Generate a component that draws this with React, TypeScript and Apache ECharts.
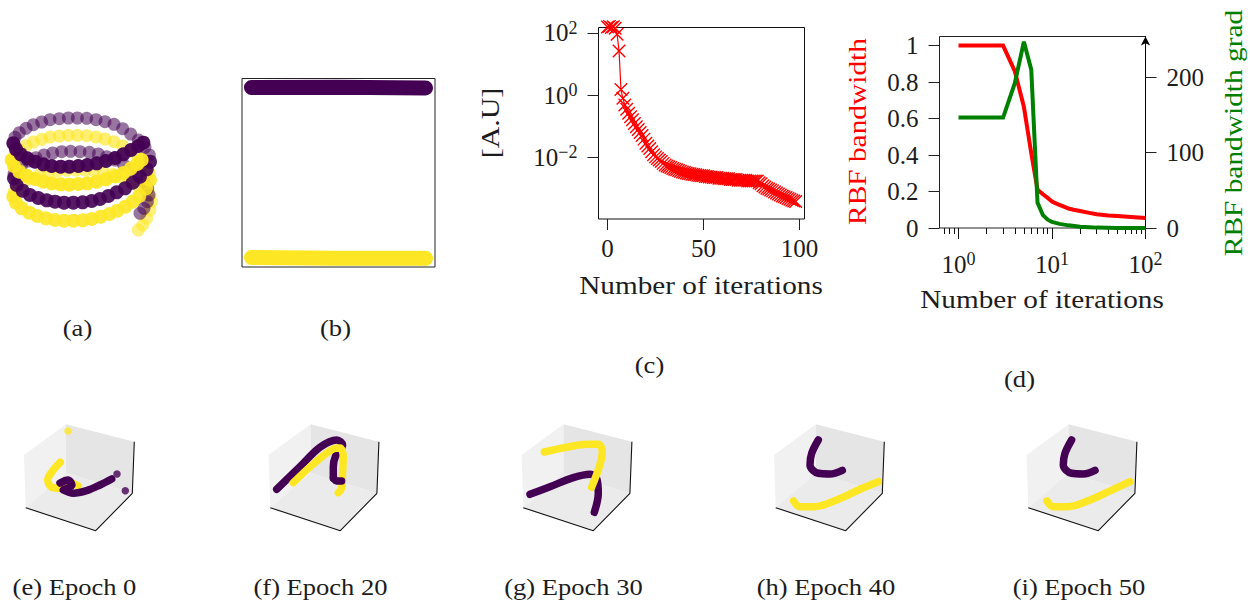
import React, { useEffect, useRef } from "react";
import * as echarts from "echarts";

const PURPLE = "#440154";
const YELLOW = "#fde725";
const FONT = '"Liberation Serif", serif';
const INK = "#1c1c1c";

// Panel (a): helix
const helixPurpleBackLow = [[420,460],[432,445],[442,425],[447,405],[443,385],[432,365],[415,345],[395,327],[370,313],[345,300],[320,290],[295,282],[268,277],[240,275],[212,274],[185,275],[158,279],[132,285],[108,293],[85,303],[65,315],[50,328],[42,342]];
const helixPurpleFrontLow = [[42,355],[50,375],[68,392],[90,405],[115,414],[140,421],[165,425],[192,428],[220,428],[248,427],[275,423],[300,417],[325,408],[350,397],[375,385],[398,368],[420,350],[440,328],[450,305]];
const helixPurpleBackHigh = [[448,285],[435,262],[415,240],[392,222],[368,206],[342,193],[315,185],[288,179],[260,175],[232,174],[205,174],[178,176],[150,179],[125,186],[100,194],[78,205],[58,218],[45,232]];
const helixPurpleFrontHigh = [[40,250],[48,268],[62,283],[82,295],[105,305],[130,313],[155,318],[182,320],[208,320],[235,318],[262,315],[290,310],[318,303],[345,294],[370,283],[393,270],[415,258],[430,248]];
const helixYellowBackLow = [[415,510],[428,495],[440,475],[450,450],[455,425],[450,405],[435,392],[415,378],[390,365],[365,352],[338,343],[310,336],[282,332],[255,330],[228,330],[200,331],[172,333],[145,337],[118,345],[92,355],[70,367],[52,382],[42,396]];
const helixYellowFrontLow = [[40,410],[48,428],[65,445],[88,458],[112,468],[138,475],[165,480],[192,482],[220,482],[248,481],[275,477],[302,470],[328,462],[352,452],[376,440],[398,425],[418,408],[438,385],[450,360]];
const helixYellowBackHigh = [[448,340],[435,315],[415,292],[392,274],[368,258],[342,245],[315,237],[288,231],[260,227],[232,226],[205,226],[178,228],[150,231],[125,238],[100,246],[78,257],[58,270],[45,285]];
const helixYellowFrontHigh = [[35,300],[42,318],[58,335],[80,347],[105,357],[130,365],[155,370],[182,373],[208,374],[235,372],[262,370],[290,365],[318,358],[345,349],[370,339],[393,325],[412,312],[425,300]];

// Panel (b)
const latentPurple = [[0.049,0.952],[0.5,0.953],[0.951,0.95]];
const latentYellow = [[0.049,0.05],[0.5,0.046],[0.951,0.046]];

// Panel (c)
const lossValues = [155,162,150,158,140,90,26,1.5,.78,.48,.35,.26,.2,.16,.12,.095,.077,.062,.05,.038,.028,.023,.019,.015,.012,.0102,.0091,.0081,.0072,.0063,.0056,.0052,.0049,.0046,.0043,.0041,.0039,.0037,.0035,.0033,.0032,.0031,.003,.0029,.0028,.00275,.0027,.0026,.00255,.0025,.0025,.0024,.0024,.0023,.0023,.0022,.0022,.0022,.0021,.0021,.0021,.002,.002,.002,.0019,.0019,.0019,.0019,.0018,.0018,.0018,.0018,.0018,.0017,.0017,.0017,.0017,.0017,.0017,.0015,.0014,.0012,.0011,.001,.00095,.00088,.00082,.00076,.0007,.00065,.0006,.00056,.00053,.0005,.00047,.00044,.00041,.00039,.00037];
const lossXTicks = [0,50,100];
const lossYTicks = [0.01,1,100];

// Panel (d)
const bandwidth = [[1,1],[2,1],[3,1],[4,0.86],[5,0.665],[6,0.41],[7,0.21],[8,0.185],[9,0.165],[10,0.145],[11,0.135],[12,0.127],[13,0.12],[14,0.113],[15,0.107],[17,0.1],[20,0.093],[25,0.083],[30,0.075],[40,0.069],[50,0.066],[70,0.06],[100,0.055]];
const bandwidthGrad = [[1,146.5],[2,146.5],[3,146.5],[4,192],[5,247],[6,210],[7,33.6],[8,17],[9,11],[10,8],[12,5.5],[15,3.5],[20,1.8],[25,1],[30,0.5],[50,0.1],[100,0]];
const iterMajor = [1,10,100];
const iterMinor = [0.7,0.8,0.9,2,3,4,5,6,7,8,9,20,30,40,50,60,70,80,90];
const bandTicks = [0,0.2,0.4,0.6,0.8,1];
const gradTicks = [0,100,200];

// Panels (e)-(i)
const leftWall = [[4,35],[46,4.3],[46,53],[5.7,87.7]];
const rightWall = [[46,4.3],[114.3,21.7],[112.3,73.3],[46,53]];
const floorPane = [[46,53],[112.3,73.3],[75.7,110.7],[5.7,87.7]];
const cubeEdges = [[5.7,87.7],[75.7,110.7],[112.3,73.3],[114.3,21.7]];

const e0Yellow = [[40.3,42.3],[33.3,50],[27.7,60],[31.7,67.3],[41.7,68.3],[50,63],[58.3,66]];
const e0YellowDots = [[48,11]];
const e0PurpleCurl = [[40,63],[48,60],[52,65],[45,69]];
const e0Purple = [[43.3,70],[53.3,73.3],[66.7,70.7],[80,65],[91.7,59]];
const e0PurpleDots = [[97,54],[105.3,70.7]];

const e20Purple = [[12.1,69.3],[35.4,46.7],[55.4,27.3],[72.1,20],[78,25],[71,36],[68.7,46.7],[68.7,58.3]];
const e20Yellow = [[28.7,62.7],[48.7,44],[68.7,29],[75.4,28],[78.7,36.7],[78,53.3],[77,68.3],[73.7,72.7]];
const e20PurpleEnd = [[69,58],[72,61],[77,61]];

const e30Purple = [[12.4,74.3],[32.4,66.7],[55.7,57.7],[72.4,54.3],[79,58.3],[80.7,73.3],[76.7,92.3]];
const e30Yellow = [[26.7,32],[49,27.3],[69,24.3],[80.7,24.3],[84.7,31.7],[81.7,46.7],[74,67.3]];

const e40Purple = [[48.3,20],[41.7,33.3],[40,45],[48.3,53.3],[60,54],[72.3,50.3]];
const e40Yellow = [[23.6,81],[30,86.7],[43.3,86.7],[66.7,80],[90,69.3],[108.3,61.7]];

const e50Purple = [[49,20],[42.4,33.3],[40.7,45],[49,53.3],[60.7,54],[72.4,50.3]];
const e50Yellow = [[24.4,81],[30.7,86.7],[44,86.7],[67.4,80],[90.7,69.3],[107.4,61.7]];

const cubeOffsets = [0,244.6,497.6,750,1002.6];

const captionsTop = [
  { t: "(a)", x: 77.5, y: 328 }, { t: "(b)", x: 335.5, y: 328 },
  { t: "(c)", x: 649.5, y: 365 }, { t: "(d)", x: 1019.5, y: 379 },
  { t: "(e) Epoch 0", x: 74.5, y: 587 }, { t: "(f) Epoch 20", x: 320.5, y: 587 },
  { t: "(g) Epoch 30", x: 573.5, y: 587 }, { t: "(h) Epoch 40", x: 826, y: 587 },
  { t: "(i) Epoch 50", x: 1079, y: 587 },
];

const supLabel = (v: number) => {
  const e = Math.round(Math.log10(v));
  return `{b|10}{s|${e < 0 ? "\u2212" + -e : e}}`;
};
const supRich = {
  b: { fontSize: 25, fontFamily: FONT, color: INK },
  s: { fontSize: 18, fontFamily: FONT, color: INK, verticalAlign: "top", padding: [0, 0, 10, 0] },
};
const tickText = { fontSize: 25, fontFamily: FONT, color: INK };

const hiddenX = (g: number, min: number, max: number) => ({ type: "value", gridIndex: g, min, max, show: false });
const hiddenY = (g: number, min: number, max: number) => ({ type: "value", gridIndex: g, min, max, inverse: true, show: false });

function buildOption() {
  const grids: any[] = [
    { left: 0, top: 60, width: 200, height: 190 },
    { left: 242, top: 78.5, width: 193, height: 188.5, show: true, borderColor: "#222", borderWidth: 1 },
    { left: 598.5, top: 27.5, width: 206, height: 191.5, show: true, borderColor: "#111", borderWidth: 1 },
    { left: 939.5, top: 36.5, width: 206, height: 191.5, show: true, borderColor: "#222", borderWidth: 1 },
  ];
  const xAxes: any[] = [
    hiddenX(0, 0, 600),
    hiddenX(1, 0, 1),
    {
      type: "value", gridIndex: 2, position: "bottom", min: -4.7, max: 102.6, splitLine: { show: false },
      axisLine: { show: false, onZero: false },
      axisTick: { show: true, length: 11, customValues: lossXTicks, lineStyle: { color: "#222", width: 1 } },
      axisLabel: { ...tickText, margin: 17, customValues: lossXTicks },
    },
    {
      type: "log", logBase: 10, gridIndex: 3, position: "bottom", min: 0.626, max: 100, splitLine: { show: false }, minorTick: { show: false },
      axisLine: { show: false, onZero: false },
      axisTick: { show: true, length: 11, customValues: iterMajor, lineStyle: { color: "#111", width: 1 } },
      axisLabel: { customValues: iterMajor, margin: 22, formatter: supLabel, rich: supRich },
    },
    {
      type: "log", logBase: 10, gridIndex: 3, position: "bottom", min: 0.626, max: 100, splitLine: { show: false }, minorTick: { show: false },
      axisLine: { show: false, onZero: false },
      axisTick: { show: true, length: 6, customValues: iterMinor, lineStyle: { color: "#111", width: 1 } },
      axisLabel: { show: false },
    },
  ];
  const yAxes: any[] = [
    hiddenY(0, 0, 570),
    { type: "value", gridIndex: 1, min: 0, max: 1, show: false },
    {
      type: "log", logBase: 10, gridIndex: 2, min: 1.02e-4, max: 149, splitLine: { show: false }, minorTick: { show: false },
      axisLine: { show: false, onZero: false },
      axisTick: { show: true, length: 11, customValues: lossYTicks, lineStyle: { color: "#222", width: 1 } },
      axisLabel: { customValues: lossYTicks, margin: 21, formatter: supLabel, rich: supRich },
    },
    {
      type: "value", gridIndex: 3, position: "left", min: 0, max: 1.05, splitLine: { show: false },
      axisLine: { show: false, onZero: false },
      axisTick: { show: true, length: 11, customValues: bandTicks, lineStyle: { color: "#222", width: 1 } },
      axisLabel: { ...tickText, margin: 21, customValues: bandTicks, formatter: (v: number) => String(v) },
    },
    {
      type: "value", gridIndex: 3, position: "right", min: 0, max: 254, splitLine: { show: false },
      axisLine: { show: true, onZero: false, symbol: ["none", "arrow"], symbolSize: [7, 9], lineStyle: { color: "#000", width: 1 } },
      axisTick: { show: true, length: 11, customValues: gradTicks, lineStyle: { color: "#222", width: 1 } },
      axisLabel: { ...tickText, margin: 21, customValues: gradTicks, formatter: (v: number) => String(v) },
    },
  ];

  const helixDots = (data: number[][], color: string, opacity: number, size: number) => ({
    type: "scatter", xAxisIndex: 0, yAxisIndex: 0, data, symbol: "circle", symbolSize: size, silent: true,
    itemStyle: { color, opacity },
  });
  const rear = 13;
  const front = 14;

  const series: any[] = [
    helixDots(helixYellowBackLow, YELLOW, 0.6, rear),
    helixDots(helixYellowBackHigh, YELLOW, 0.65, rear),
    helixDots(helixPurpleBackLow, PURPLE, 0.55, rear),
    helixDots(helixPurpleBackHigh, PURPLE, 0.55, rear),
    helixDots(helixYellowFrontLow, YELLOW, 0.9, front),
    helixDots(helixPurpleFrontLow, PURPLE, 0.9, front),
    helixDots(helixYellowFrontHigh, YELLOW, 0.95, front),
    helixDots(helixPurpleFrontHigh, PURPLE, 0.95, front),
    ...[[latentPurple, PURPLE], [latentYellow, YELLOW]].map(([data, color]) => ({
      type: "line", xAxisIndex: 1, yAxisIndex: 1, data, symbol: "none", silent: true, clip: false,
      lineStyle: { color, width: 15, cap: "round" },
    })),
    {
      type: "line", xAxisIndex: 2, yAxisIndex: 2, data: lossValues.map((v, i) => [i, v]), clip: false, silent: true,
      symbol: "path://M0 0L10 10M0 10L10 0", symbolSize: 12.5, showAllSymbol: true,
      itemStyle: { color: "none", borderColor: "#ff0000", borderWidth: 1.4 },
      lineStyle: { color: "#ff0000", width: 1.2 },
    },
    {
      type: "line", xAxisIndex: 3, yAxisIndex: 3, data: bandwidth, symbol: "none", silent: true,
      lineStyle: { color: "#ff0000", width: 4, join: "miter" },
    },
    {
      type: "line", xAxisIndex: 3, yAxisIndex: 4, data: bandwidthGrad, symbol: "none", silent: true,
      lineStyle: { color: "#008000", width: 4, join: "miter" },
    },
  ];

  const stroke = (g: number, data: number[][], color: string) => ({
    type: "line", xAxisIndex: g + 1, yAxisIndex: g, data, symbol: "none", smooth: 0.35, silent: true, clip: false,
    lineStyle: { color, width: 7.5, cap: "round", join: "round" },
  });
  const dots = (g: number, data: number[][], color: string) => ({
    type: "scatter", xAxisIndex: g + 1, yAxisIndex: g, data, symbol: "circle", symbolSize: 7.5, silent: true, itemStyle: { color },
  });

  const layers: [number[][], string, string][][] = [
    [[e0Yellow, YELLOW, "l"], [e0YellowDots, YELLOW, "d"], [e0PurpleCurl, PURPLE, "l"], [e0Purple, PURPLE, "l"], [e0PurpleDots, PURPLE, "d"]],
    [[e20Purple, PURPLE, "l"], [e20Yellow, YELLOW, "l"], [e20PurpleEnd, PURPLE, "l"]],
    [[e30Purple, PURPLE, "l"], [e30Yellow, YELLOW, "l"]],
    [[e40Purple, PURPLE, "l"], [e40Yellow, YELLOW, "l"]],
    [[e50Purple, PURPLE, "l"], [e50Yellow, YELLOW, "l"]],
  ];
  const panes = [
    { pts: leftWall, fill: "#f1f1f1" },
    { pts: rightWall, fill: "#e5e5e5" },
    { pts: floorPane, fill: "#ebebeb" },
  ];

  cubeOffsets.forEach((off, k) => {
    const g = grids.length;
    grids.push({ left: 20 + off, top: 420, width: 120, height: 115 });
    const xi = xAxes.length;
    const yi = yAxes.length;
    xAxes.push(hiddenX(g, 0, 120));
    yAxes.push(hiddenY(g, 0, 115));
    series.push({
      type: "custom", coordinateSystem: "cartesian2d", xAxisIndex: xi, yAxisIndex: yi, silent: true, clip: false,
      data: panes.map(() => [0, 0]),
      renderItem: (params: any, api: any) => ({
        type: "polygon",
        shape: { points: panes[params.dataIndex].pts.map((p) => api.coord(p)) },
        style: { fill: panes[params.dataIndex].fill, stroke: "none" },
      }),
    });
    series.push({
      type: "line", xAxisIndex: xi, yAxisIndex: yi, data: cubeEdges, symbol: "none", silent: true,
      lineStyle: { color: "#111", width: 1.1 },
    });
    layers[k].forEach(([data, color, kind]) => {
      const mk = kind === "d" ? dots : stroke;
      series.push({ ...mk(0, data, color), xAxisIndex: xi, yAxisIndex: yi });
    });
  });

  const label = (text: string, x: number, y: number, size: number, sx: number, fill = INK, rot = 0) => ({
    type: "text", x, y, scaleX: sx, scaleY: 1, rotation: rot, silent: true,
    style: { text, fill, font: `${size}px ${FONT}`, textAlign: "center", textVerticalAlign: "middle" },
  });

  const graphic = [
    ...captionsTop.map((c) => label(c.t, c.x, c.y, 22.5, 1.18)),
    label("Number of iterations", 701, 285, 26, 1.125),
    label("Number of iterations", 1042, 299, 26, 1.125),
    label("[A.U]", 490, 123, 26, 1.15, INK, Math.PI / 2),
    label("RBF bandwidth", 857, 131.5, 26, 1.13, "#ff0000", Math.PI / 2),
    label("RBF bandwidth grad", 1233, 133, 26, 1.13, "#008000", Math.PI / 2),
  ];

  return { animation: false, backgroundColor: "#fff", grid: grids, xAxis: xAxes, yAxis: yAxes, series, graphic };
}

export default function App() {
  const ref = useRef<HTMLDivElement>(null);
  useEffect(() => {
    const chart = echarts.init(ref.current!, null, { renderer: "svg" });
    chart.setOption(buildOption() as any);
    return () => chart.dispose();
  }, []);
  return <div ref={ref} style={{ position: "absolute", left: 0, top: 0, width: 1250, height: 600 }} />;
}
